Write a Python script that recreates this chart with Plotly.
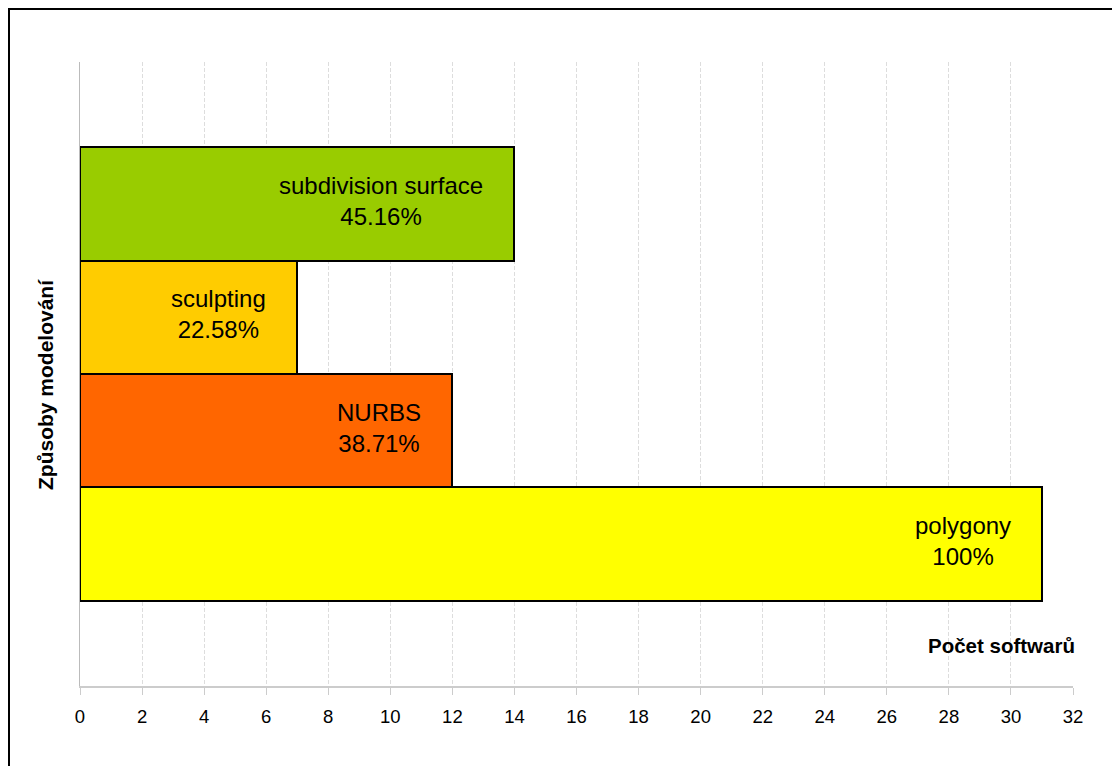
import plotly.graph_objects as go

categories = ["polygony", "NURBS", "sculpting", "subdivision surface"]
values = [31, 12, 7, 14]
percents = ["100%", "38.71%", "22.58%", "45.16%"]
colors = ["#FFFF00", "#FF6600", "#FFCC00", "#99CC00"]
x_ticks = list(range(0, 33, 2))

W, H = 1112, 766
L, R, T, B = 80, 39, 62, 80
pw, ph = W - L - R, H - T - B

fig = go.Figure()
fig.add_trace(go.Bar(
    y=categories, x=values, orientation="h",
    marker=dict(color=colors, line=dict(color="black", width=2)),
    width=1.0, hoverinfo="skip",
))

annotations = []
for c, v, p in zip(categories, values, percents):
    annotations.append(dict(
        x=v, y=c, xref="x", yref="y", text=f"{c}<br>{p}",
        showarrow=False, xanchor="right", xshift=-29, yshift=3, align="center",
        font=dict(family="Liberation Sans, Arial", size=24, color="black"),
    ))

annotations.append(dict(
    x=(46 - L) / pw, y=(686 - 385) / ph, xref="paper", yref="paper",
    text="<b>Způsoby modelování</b>", textangle=-90, showarrow=False,
    font=dict(family="Liberation Sans, Arial", size=21, color="black"),
    xanchor="center", yanchor="middle",
))
annotations.append(dict(
    x=(1077 - L) / pw, y=(686 - 645) / ph, xref="paper", yref="paper",
    text="<b>Počet softwarů</b>", showarrow=False,
    font=dict(family="Liberation Sans, Arial", size=20.5, color="black"),
    xanchor="right", yanchor="middle",
))

shapes = [dict(
    type="rect", xref="paper", yref="paper",
    x0=(9 - L) / pw, x1=(W + 20 - L) / pw,
    y0=(H - B - (H + 20)) / ph, y1=(H - B - 9) / ph,
    line=dict(color="black", width=2), fillcolor="rgba(0,0,0,0)", layer="below",
)]

fig.update_layout(
    width=W, height=H,
    margin=dict(l=L, r=R, t=T, b=B, pad=0),
    paper_bgcolor="white", plot_bgcolor="white",
    showlegend=False, bargap=0,
    annotations=annotations, shapes=shapes,
    font=dict(family="Liberation Sans, Arial", color="black"),
    xaxis=dict(
        range=[0, 32], tickvals=x_ticks, ticktext=[str(t) for t in x_ticks],
        showgrid=True, gridcolor="#DDDDDD", griddash="4px,2px", gridwidth=1,
        showline=True, linecolor="#CCCCCC", linewidth=2,
        ticks="outside", ticklen=7, tickcolor="#CCCCCC", tickwidth=1,
        tickfont=dict(size=18.5, color="black"), ticklabelstandoff=6,
        zeroline=False,
    ),
    yaxis=dict(
        type="category", categoryorder="array", categoryarray=categories,
        range=[-1.25, 4.25], showticklabels=False, ticks="",
        showgrid=False, showline=True, linecolor="#BBBBBB", linewidth=1,
        zeroline=False,
    ),
)

fig.write_html("out.html")
